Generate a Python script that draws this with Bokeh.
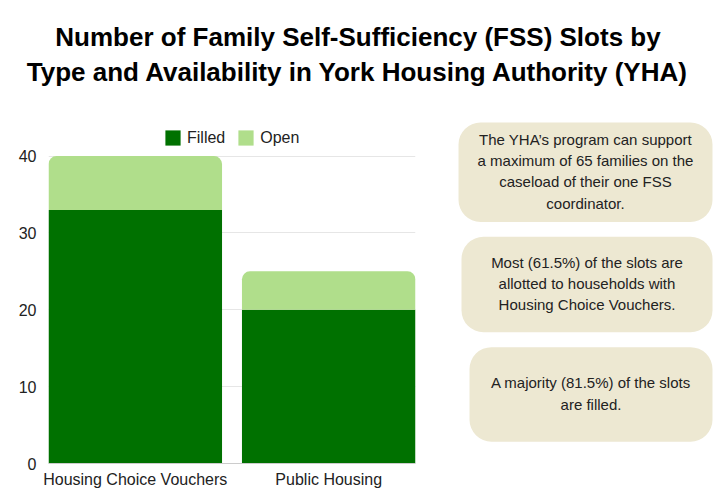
from bokeh.plotting import figure
from bokeh.models import (Range1d, FixedTicker, BoxAnnotation, Legend, LegendItem,
                          ColumnDataSource)
from bokeh.layouts import column, row
from bokeh.embed import file_html
from bokeh.resources import INLINE
from bokeh.core.properties import value

# data
categories = ["Housing Choice Vouchers", "Public Housing"]
filled = [33, 20]
open_slots = [7, 5]
y_ticks = [0, 10, 20, 30, 40]

title_lines = [
    "Number of Family Self-Sufficiency (FSS) Slots by",
    "Type and Availability in York Housing Authority (YHA)",
]
notes = [
    "The YHA\u2019s program can support\na maximum of 65 families on the\ncaseload of their one FSS\ncoordinator.",
    "Most (61.5%) of the slots are\nallotted to households with\nHousing Choice Vouchers.",
    "A majority (81.5%) of the slots\nare filled.",
]

FONT = "Liberation Sans"
GREEN = "#007100"
LIGHT = "#b0de8b"
BEIGE = "#ede8d2"
TEXT = "#222222"
BAR_W = 0.897
TOP_B, BOT_B = 18, 25
TITLE_H = 103

# title (page coordinates, y down)
t = figure(width=724, height=TITLE_H, output_backend="svg", toolbar_location=None,
           x_range=Range1d(0, 724), y_range=Range1d(TITLE_H, 0),
           x_axis_location=None, y_axis_location=None, min_border=0)
t.outline_line_color = None
t.grid.visible = False
t.text(x=[357.5, 357.5], y=[36, 71], text=title_lines,
       text_font=value(FONT), text_font_style="bold", text_font_size="26px",
       text_align="center", text_baseline="middle", text_color="#000000")

# bar chart
xs = [i + 1 for i in range(len(categories))]
tops = [f + o for f, o in zip(filled, open_slots)]
src = ColumnDataSource(dict(x=xs, filled=filled, open=open_slots, top=tops))

p = figure(width=438, height=387, output_backend="svg", toolbar_location=None,
           x_range=Range1d(1 - BAR_W / 2, len(categories) + BAR_W / 2),
           y_range=Range1d(0, 44.5),
           min_border_left=48, min_border_right=23,
           min_border_top=TOP_B, min_border_bottom=BOT_B)
p.outline_line_color = None

r_filled = p.vbar(x="x", top="filled", width=BAR_W, source=src,
                  fill_color=GREEN, line_color=None)
# zero-height proxy that carries the legend swatch for the open part
r_open = p.vbar(x="x", bottom="filled", top="filled", width=BAR_W, source=src,
                fill_color=LIGHT, line_color=None)

# open part on top, with rounded corners
for x, f, top in zip(xs, filled, tops):
    p.add_layout(BoxAnnotation(left=x - BAR_W / 2, right=x + BAR_W / 2, bottom=f, top=top,
                               fill_color=LIGHT, fill_alpha=1, line_color=None,
                               border_radius=(8, 8, 0, 0), level="glyph"))

legend = Legend(items=[LegendItem(label="Filled", renderers=[r_filled]),
                       LegendItem(label="Open", renderers=[r_open])],
                orientation="horizontal", location=(115, 316),
                glyph_width=19, glyph_height=19, label_height=19,
                label_standoff=5, spacing=11, padding=0, margin=0,
                label_text_font=FONT, label_text_font_size="16px", label_text_color=TEXT,
                border_line_color=None, background_fill_alpha=0)
p.add_layout(legend)

p.yaxis.ticker = FixedTicker(ticks=y_ticks)
p.yaxis.axis_line_color = None
p.yaxis.major_label_standoff = 12
p.xaxis.ticker = FixedTicker(ticks=xs)
p.xaxis.major_label_overrides = {x: c for x, c in zip(xs, categories)}
p.xaxis.axis_line_color = "#cccccc"
p.xaxis.major_label_standoff = 7
for ax in (p.xaxis, p.yaxis):
    ax.major_tick_line_color = None
    ax.minor_tick_line_color = None
    ax.major_tick_out = 0
    ax.major_tick_in = 0
    ax.minor_tick_out = 0
    ax.major_label_text_font = FONT
    ax.major_label_text_font_size = "16px"
    ax.major_label_text_color = TEXT
p.xgrid.visible = False
p.ygrid.grid_line_color = "#e6e6e6"

# note boxes; frame is aligned with the chart frame (page y 121..465)
s = figure(width=286, height=387, output_backend="svg", toolbar_location=None,
           x_range=Range1d(438, 724), y_range=Range1d(465, TITLE_H + TOP_B),
           x_axis_location=None, y_axis_location=None, min_border=0,
           min_border_top=TOP_B, min_border_bottom=BOT_B)
s.outline_line_color = None
s.grid.visible = False
box_left = [458, 461, 469]
box_top = [122, 237, 348]
box_bottom = [222, 333, 443]
box_right = 712
for l, tp, b in zip(box_left, box_top, box_bottom):
    s.add_layout(BoxAnnotation(left=l, right=box_right, top=tp, bottom=b,
                               fill_color=BEIGE, fill_alpha=1, line_color=None,
                               border_radius=22, level="underlay"))
s.text(x=[(l + box_right) / 2 for l in box_left],
       y=[(tp + b) / 2 - 1 for tp, b in zip(box_top, box_bottom)],
       text=notes, text_font=value(FONT), text_font_size="15px", text_color=TEXT,
       text_align="center", text_baseline="middle", text_line_height=1.26,
       level="overlay")

layout = column(t, row(p, s))
open("out.html", "w").write(file_html(layout, INLINE))
